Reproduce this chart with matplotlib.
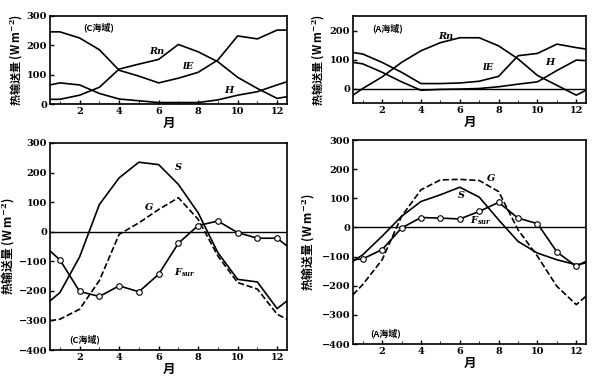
import matplotlib
matplotlib.use('Agg')
import matplotlib.pyplot as plt
from matplotlib import rcParams

rcParams['font.family'] = ['DejaVu Serif']
rcParams['font.weight'] = 'bold'
rcParams['mathtext.fontset'] = 'dejavuserif'

cjk = ['Noto Sans CJK SC', 'DejaVu Sans']

# month positions (ends at 0.5 and 12.5)
months = [0.5, 1, 2, 3, 4, 5, 6, 7, 8, 9, 10, 11, 12, 12.5]

# top-left, C sea area
c_rn = [16, 16, 30, 57, 119, 136, 152, 203, 178, 144, 91, 53, 19, 25]
c_ie = [246, 246, 225, 185, 115, 95, 72, 88, 108, 150, 232, 222, 252, 252]
c_h = [65, 72, 65, 36, 17, 11, 5, 5, 5, 14, 30, 42, 65, 76]

# top-right, A sea area
a_rn = [-23, 0, 40, 90, 130, 158, 175, 175, 147, 102, 45, 11, -23, -6]
a_ie = [124, 119, 90, 56, 17, 17, 19, 25, 42, 113, 121, 153, 141, 136]
a_h = [90, 85, 56, 23, -6, -3, -2, 0, 6, 15, 23, 62, 98, 96]

# bottom-left, C sea area
c_s = [-234, -206, -85, 92, 182, 235, 227, 160, 64, -71, -161, -170, -260, -234]
c_g = [-301, -296, -262, -165, -9, 30, 75, 115, 42, -82, -172, -194, -279, -296]
c_f = [-65, -95, -202, -219, -183, -203, -144, -39, 21, 36, -3, -22, -22, -48]

# bottom-right, A sea area
a_s = [-116, -94, -30, 38, 89, 112, 138, 104, 26, -48, -88, -111, -128, -122]
a_g = [-231, -196, -111, 38, 129, 163, 165, 161, 123, -8, -99, -202, -265, -236]
a_f = [-111, -108, -76, -2, 34, 32, 29, 55, 86, 32, 13, -84, -134, -116]

xticks = [2, 4, 6, 8, 10, 12]
ylabel = r'热输送量 (W m$^{-2}$)'

fig = plt.figure(figsize=(6, 3.8), dpi=100)
W, H = 600.0, 380.0


def make_ax(l, r, t, b, ysize, ypad):
    ax = fig.add_axes([l / W, 1 - b / H, (r - l) / W, (b - t) / H])
    ax.set_xlim(0.5, 12.5)
    ax.set_xticks(xticks)
    ax.set_xticks(range(1, 13), minor=True)
    ax.tick_params(direction='in', labelsize=7, width=1, length=3, pad=2)
    ax.tick_params(which='minor', direction='in', length=2)
    for s in ax.spines.values():
        s.set_linewidth(1.2)
    ax.axhline(0, color='black', linewidth=1)
    ax.set_xlabel('月', family=cjk, fontsize=9, fontweight='bold', labelpad=1)
    ax.set_ylabel(ylabel, family=cjk, fontsize=ysize, fontweight='bold', labelpad=ypad)
    return ax


lw = 1.2
mk = dict(marker='o', markersize=4, markerfacecolor='white', markeredgecolor='black',
          markeredgewidth=0.8, markevery=list(range(1, 13)))

# top-left
ax1 = make_ax(50, 287, 16, 104, 8, 2)
ax1.set_ylim(0, 300)
ax1.set_yticks([0, 100, 200, 300])
ax1.plot(months, c_rn, color='black', lw=lw)
ax1.plot(months, c_ie, color='black', lw=lw)
ax1.plot(months, c_h, color='black', lw=lw)
ax1.text(2.2, 262, '(C海域)', family=cjk, fontsize=6.5, fontweight='bold', va='center')
ax1.text(5.5, 178, 'Rn', style='italic', fontsize=7, va='center')
ax1.text(7.2, 127, 'lE', style='italic', fontsize=7, va='center')
ax1.text(9.3, 47, 'H', style='italic', fontsize=7, va='center')

# top-right
ax2 = make_ax(353, 586, 16, 103, 8, 3)
ax2.set_ylim(-50, 250)
ax2.set_yticks([0, 100, 200])
ax2.plot(months, a_rn, color='black', lw=lw)
ax2.plot(months, a_ie, color='black', lw=lw)
ax2.plot(months, a_h, color='black', lw=lw)
ax2.text(1.5, 209, '(A海域)', family=cjk, fontsize=6.5, fontweight='bold', va='center')
ax2.text(4.9, 181, 'Rn', style='italic', fontsize=7, va='center')
ax2.text(7.2, 73, 'lE', style='italic', fontsize=7, va='center')
ax2.text(10.4, 90, 'H', style='italic', fontsize=7, va='center')

# bottom-left
ax3 = make_ax(50, 287, 143, 350, 8.5, 1)
ax3.set_ylim(-400, 300)
ax3.set_yticks(range(-400, 301, 100))
ax3.plot(months, c_s, color='black', lw=lw)
ax3.plot(months, c_g, color='black', lw=lw, linestyle='--')
ax3.plot(months, c_f, color='black', lw=lw, **mk)
ax3.text(6.8, 216, 'S', style='italic', fontsize=7, va='center')
ax3.text(5.3, 81, 'G', style='italic', fontsize=7, va='center')
ax3.text(6.8, -138, r'$F_{sur}$', fontsize=7, va='center')
ax3.text(1.5, -363, '(C海域)', family=cjk, fontsize=6.5, fontweight='bold', va='center')

# bottom-right
ax4 = make_ax(353, 586, 140, 344, 8.5, 3)
ax4.set_ylim(-400, 300)
ax4.set_yticks(range(-400, 301, 100))
ax4.plot(months, a_s, color='black', lw=lw)
ax4.plot(months, a_g, color='black', lw=lw, linestyle='--')
ax4.plot(months, a_f, color='black', lw=lw, **mk)
ax4.text(7.4, 169, 'G', style='italic', fontsize=7, va='center')
ax4.text(5.9, 110, 'S', style='italic', fontsize=7, va='center')
ax4.text(6.5, 22, r'$F_{sur}$', fontsize=7, va='center')
ax4.text(1.4, -362, '(A海域)', family=cjk, fontsize=6.5, fontweight='bold', va='center')

fig.savefig('out.png', dpi=100)
